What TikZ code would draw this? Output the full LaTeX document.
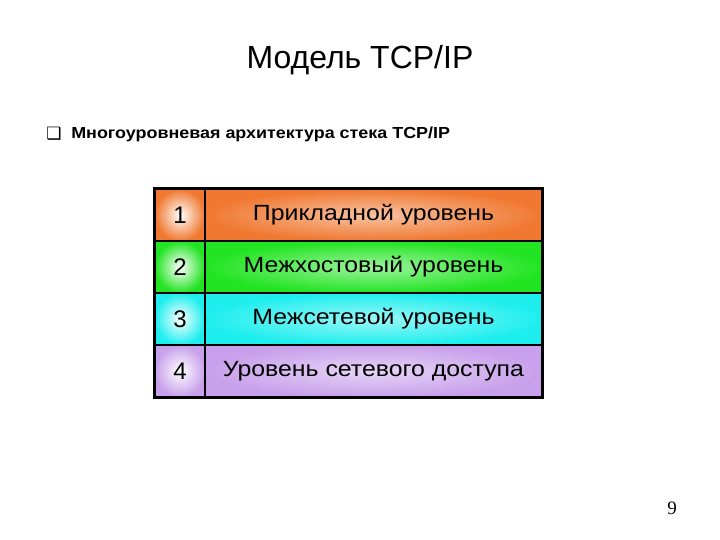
\documentclass[tikz,border=0pt]{standalone}
\usepackage{fontspec}
\setmainfont{Liberation Sans}
\newfontfamily\symbfont{DejaVu Sans}
\newfontfamily\pagefont{Liberation Serif}

\definecolor{appcol}{RGB}{240,120,48}
\definecolor{hostcol}{RGB}{34,228,34}
\definecolor{netcol}{RGB}{30,238,238}
\definecolor{acccol}{RGB}{200,160,235}

\tikzset{every picture/.style={line width=0.75pt}}
\tikzset{
  numcell/.style={draw=black, line width=1.5pt, minimum width=50pt, minimum height=52pt, inner sep=0pt, shade, inner color=white, font=\fontsize{24}{28}\selectfont},
  namecell/.style={draw=black, line width=1.5pt, minimum width=337pt, minimum height=52pt, inner sep=0pt, shade},
  layertext/.style={xscale=1.13, font=\fontsize{22}{26}\selectfont}
}

\begin{document}
\begin{tikzpicture}[x=1pt,y=1pt,yscale=-1,xscale=1]

\useasboundingbox (0,0) rectangle (720,540);

% table cells
\draw (180,215) node [numcell, outer color=appcol] (n1) {1};
\draw (373.5,215) node [namecell, inner color=white!55!appcol, outer color=appcol] (l1) {};
\draw (180,267) node [numcell, outer color=hostcol] (n2) {2};
\draw (373.5,267) node [namecell, inner color=white!55!hostcol, outer color=hostcol] (l2) {};
\draw (180,319) node [numcell, outer color=netcol] (n3) {3};
\draw (373.5,319) node [namecell, inner color=white!55!netcol, outer color=netcol] (l3) {};
\draw (180,371) node [numcell, outer color=acccol] (n4) {4};
\draw (373.5,371) node [namecell, inner color=white!55!acccol, outer color=acccol] (l4) {};

\draw  [line width=2pt]  (n1.north west) rectangle (l4.south east) ;

\draw (l1.center) node [layertext] (t1) {Прикладной уровень};
\draw (l2.center) node [layertext] (t2) {Межхостовый уровень};
\draw (l3.center) node [layertext] (t3) {Межсетевой уровень};
\draw (l4.center) node [layertext] (t4) {Уровень сетевого доступа};

% headings
\draw (360,60) node [font=\fontsize{32}{36}\selectfont] (title) {Модель TCP/IP};
\draw (54,134) node [font=\symbfont\fontsize{17}{19}\selectfont] (bul) {❑};
\draw (70,134) node [anchor=west] [inner sep=0.75pt] [xscale=1.12] [font=\bfseries\fontsize{16}{19}\selectfont] (sub) {Многоуровневая архитектура стека TCP/IP};
\draw (672,508) node [font=\pagefont\fontsize{19}{21}\selectfont] (page) {9};

\end{tikzpicture}
\end{document}
